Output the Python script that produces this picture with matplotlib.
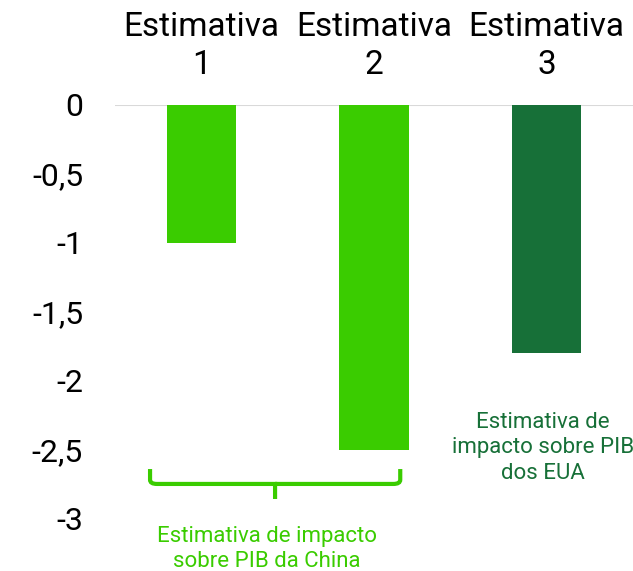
import numpy as np
from matplotlib import pyplot as plt
from matplotlib.path import Path
from matplotlib.patches import PathPatch

categorias = ['Estimativa\n1', 'Estimativa\n2', 'Estimativa\n3']
valores = [-1.0, -2.5, -1.8]
cores = ['#3acc00', '#3acc00', '#177038']
yticks = [0, -0.5, -1, -1.5, -2, -2.5, -3]
ytick_labels = ['0', '-0,5', '-1', '-1,5', '-2', '-2,5', '-3']
nota_china = 'Estimativa de impacto\nsobre PIB da China'
nota_eua = 'Estimativa de\nimpacto sobre PIB\ndos EUA'

plt.rcParams['font.family'] = ['Roboto', 'DejaVu Sans']

fig = plt.figure(figsize=(6.33, 5.71), dpi=100)
ax = fig.add_axes([115 / 633, 1 - 519 / 571, 1 - 115 / 633, 414 / 571])

x = np.arange(len(valores))
ax.bar(x, valores, width=0.4, color=cores, zorder=2)
ax.axhline(0, color='#d9d9d9', lw=1.5, zorder=1)

ax.set_xlim(-0.5, 2.5)
ax.set_ylim(-3, 0)
ax.set_yticks(yticks)
ax.set_yticklabels(ytick_labels, fontsize=23)
ax.tick_params(axis='y', length=0, pad=23)
ax.set_xticks([])
for s in ax.spines.values():
    s.set_visible(False)

for xi, cat in zip(x, categorias):
    ax.text(xi, 0.425, cat, ha='center', va='center', fontsize=24,
            linespacing=1.25, clip_on=False)

# chave agrupando as duas estimativas da China
x0, x1, xm = -0.297, 1.152, 0.427
yt, yb, ys = -2.638, -2.746, -2.855
r = 0.04
verts = [(x0, yt), (x0, yb + 0.03), (x0, yb), (x0 + r, yb), (xm, yb),
         (xm, ys), (xm, yb), (x1 - r, yb), (x1, yb), (x1, yb + 0.03), (x1, yt)]
codes = [Path.MOVETO, Path.LINETO, Path.CURVE3, Path.CURVE3, Path.LINETO,
         Path.LINETO, Path.MOVETO, Path.LINETO, Path.CURVE3, Path.CURVE3, Path.LINETO]
ax.add_patch(PathPatch(Path(verts, codes), fill=False, edgecolor='#3acc00',
                       lw=3, capstyle='butt', clip_on=False))

ax.text(0.38, -3.22, nota_china, ha='center', va='center', fontsize=16,
        color='#3acc00', linespacing=1.25, clip_on=False)
ax.text(1.98, -2.485, nota_eua, ha='center', va='center', fontsize=16,
        color='#177038', linespacing=1.27, clip_on=False)

plt.savefig('out.png', dpi=100)
